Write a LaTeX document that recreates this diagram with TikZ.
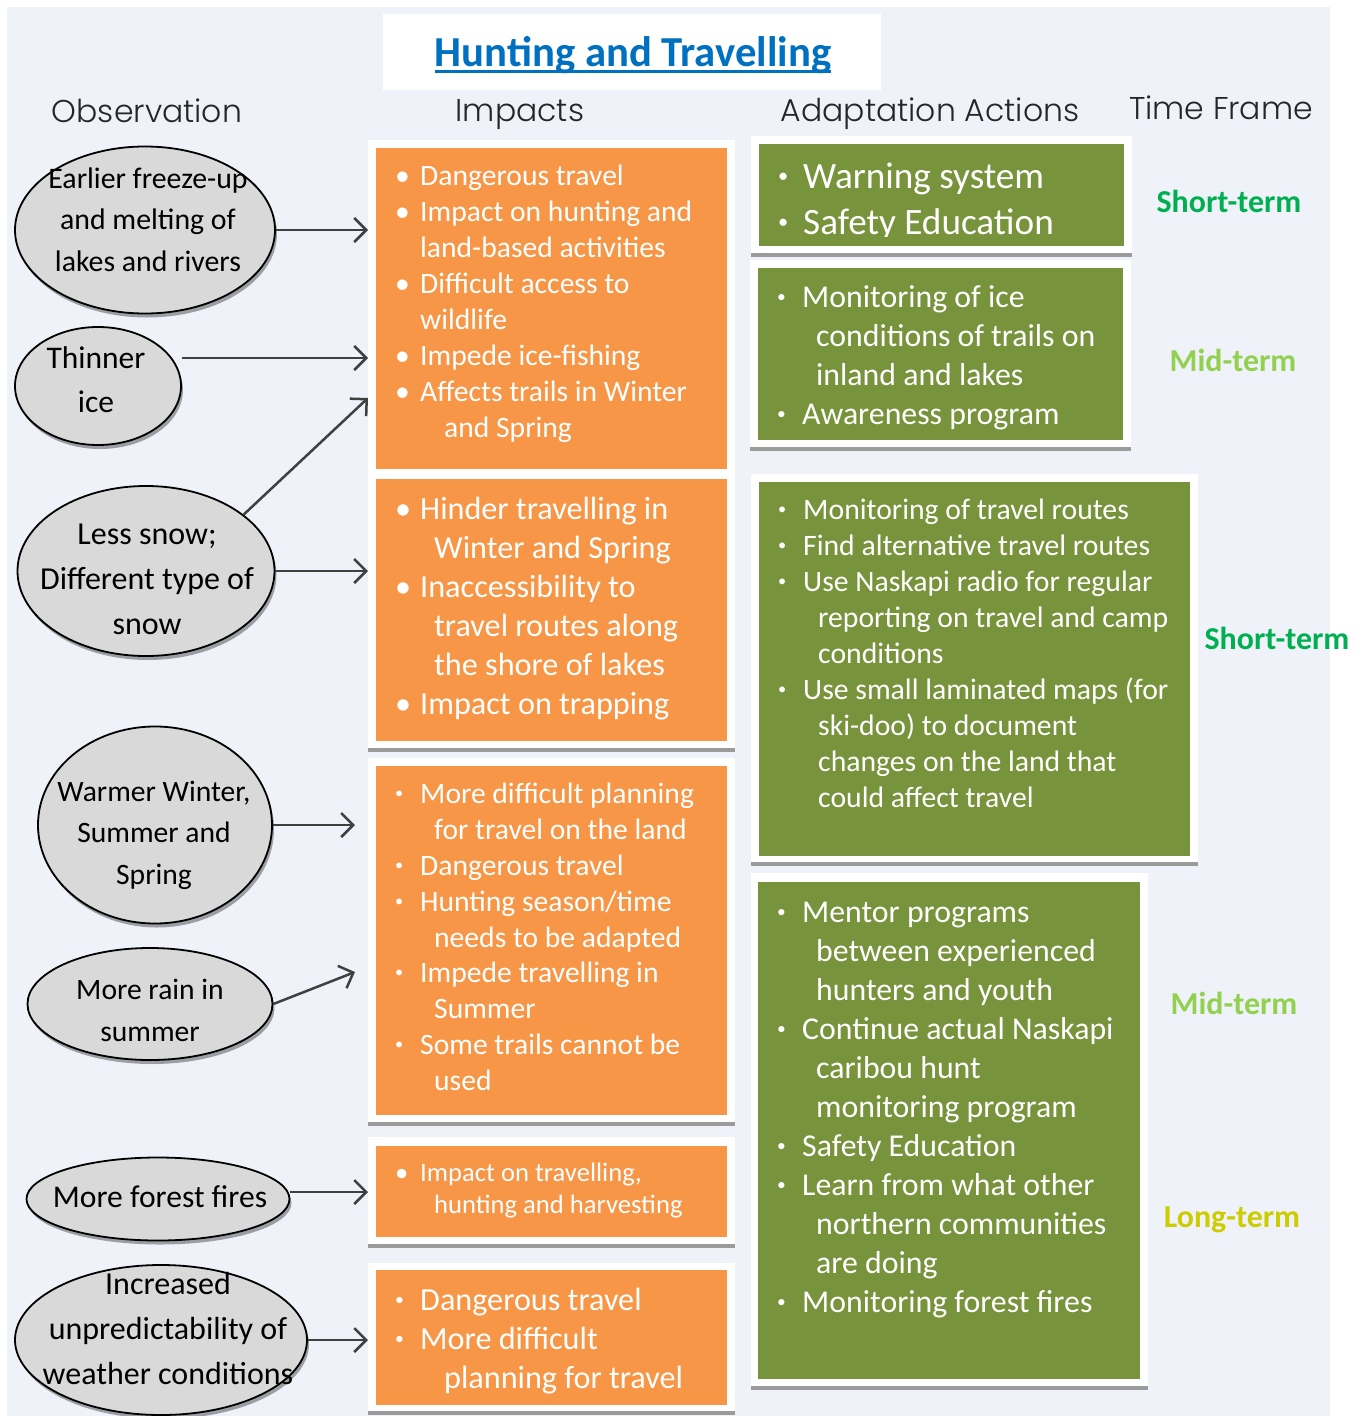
\documentclass[tikz,border=0pt]{standalone}
\usepackage{fontspec}
\setmainfont{Carlito}
\newfontfamily\headfont{Poppins Light}
\usetikzlibrary{arrows.meta,shapes.geometric,shadows}

\definecolor{bgblue}{HTML}{EFF3F9}
\definecolor{imporange}{HTML}{F79646}
\definecolor{actgreen}{HTML}{77933C}
\definecolor{panelgray}{HTML}{9B9B9B}
\definecolor{ellgray}{HTML}{D9D9D9}
\definecolor{titleblue}{HTML}{0070C0}
\definecolor{shortcol}{HTML}{00B050}
\definecolor{midcol}{HTML}{92D050}
\definecolor{longcol}{HTML}{CCCC00}
\definecolor{arrowgray}{HTML}{404040}

% bullet lines inside the boxes
\newcommand{\sdot}{\raisebox{0.17em}{\scalebox{0.55}{\textbullet}}}
\newcommand{\bitem}[1]{\makebox[25pt][l]{\textbullet}#1\strut}
\newcommand{\sitem}[1]{\makebox[25pt][l]{\sdot}#1\strut}
\newcommand{\citem}[2][14]{\hspace*{\dimexpr 25pt+#1pt\relax}#2\strut}

\tikzset{
  obs/.style={ellipse, draw=black, line width=1.8pt, fill=ellgray, inner sep=0pt,
    drop shadow={shadow xshift=2pt, shadow yshift=-4pt, fill=black, opacity=0.35}},
  obstxt/.style={align=center, inner sep=0pt},
  panel/.style={fill=white, inner sep=0pt, outer sep=0pt, anchor=north west},
  impbox/.style={fill=imporange, inner sep=0pt, outer sep=0pt, anchor=north west},
  actbox/.style={fill=actgreen, inner sep=0pt, outer sep=0pt, anchor=north west},
  boxtxt/.style={text=white, align=left, inner sep=0pt, anchor=north west},
  head/.style={font=\headfont\fontsize{31.5}{36}\selectfont, text=black!85,
    inner sep=0pt, anchor=base},
  term/.style={font=\bfseries\fontsize{31.9}{36}\selectfont},
  arr/.style={draw=arrowgray, line width=2.5pt, -{Straight Barb[length=12pt,width=24pt]}},
}

\begin{document}
\begin{tikzpicture}[x=1pt, y=-1pt]
  \useasboundingbox (0,0) rectangle (1364,1416);
  \fill[bgblue] (7,7) rectangle (1330,1416);

  % title
  \node[panel, minimum width=498pt, minimum height=76pt] (ttlbox) at (383,14) {};
  \node[font=\bfseries\fontsize{42.7}{50}\selectfont, text=titleblue, inner sep=0pt]
    (ttl) at (633,55) {Hunting and Travelling};
  \draw[titleblue, line width=3pt] ([yshift=2pt]ttl.south west) -- ([yshift=2pt]ttl.south east);

  % column heads
  \node[head] (hobs) at (147,122) {Observation};
  \node[head] (himp) at (520,121) {Impacts};
  \node[head] (hact) at (930,121) {Adaptation Actions};
  \node[head] (htf)  at (1221,119) {Time Frame};

  % white panels with grey bottom edge
  \node[panel, minimum width=367pt, minimum height=608pt] (panA) at (368,140) {};
  \node[panel, minimum width=367pt, minimum height=364pt] (panB) at (368,758) {};
  \node[panel, minimum width=367pt, minimum height=107pt] (panC) at (368,1137) {};
  \node[panel, minimum width=367pt, minimum height=148pt] (panD) at (368,1263) {};
  \node[panel, minimum width=381pt, minimum height=117pt] (panE) at (751,136) {};
  \node[panel, minimum width=381pt, minimum height=187pt] (panF) at (750,260) {};
  \node[panel, minimum width=447pt, minimum height=388pt] (panG) at (751,474) {};
  \node[panel, minimum width=397pt, minimum height=513pt] (panH) at (751,873) {};
  \foreach \p in {panA,panB,panC,panD,panE,panF,panG,panH}
    \fill[panelgray] ([yshift=-4pt]\p.south west) rectangle (\p.south east);

  % impacts
  \node[impbox, minimum width=351pt, minimum height=321pt] (imp1) at (376,148) {};
  \node[impbox, minimum width=351pt, minimum height=262pt] (imp2) at (376,479) {};
  \node[impbox, minimum width=351pt, minimum height=349pt] (imp3) at (376,766) {};
  \node[impbox, minimum width=351pt, minimum height=91pt]  (imp4) at (376,1146) {};
  \node[impbox, minimum width=351pt, minimum height=135pt] (imp5) at (376,1270) {};

  \node[boxtxt, font=\fontsize{29.6}{36}\selectfont] (imp1txt) at (395,160.5) {%
    \bitem{Dangerous travel}\\
    \bitem{Impact on hunting and}\\
    \citem[0]{land-based activities}\\
    \bitem{Difficult access to}\\
    \citem[0]{wildlife}\\
    \bitem{Impede ice-fishing}\\
    \bitem{Affects trails in Winter}\\
    \citem[24]{and Spring}};
  \node[boxtxt, font=\fontsize{32.2}{39}\selectfont] (imp2txt) at (395,492) {%
    \bitem{Hinder travelling in}\\
    \citem{Winter and Spring}\\
    \bitem{Inaccessibility to}\\
    \citem{travel routes along}\\
    \citem{the shore of lakes}\\
    \bitem{Impact on trapping}};
  \node[boxtxt, font=\fontsize{29.6}{35.8}\selectfont] (imp3txt) at (395,778.6) {%
    \sitem{More difficult planning}\\
    \citem{for travel on the land}\\
    \sitem{Dangerous travel}\\
    \sitem{Hunting season/time}\\
    \citem{needs to be adapted}\\
    \sitem{Impede travelling in}\\
    \citem{Summer}\\
    \sitem{Some trails cannot be}\\
    \citem{used}};
  \node[boxtxt, font=\fontsize{26.6}{32}\selectfont] (imp4txt) at (395,1158.4) {%
    \bitem{Impact on travelling,}\\
    \citem{hunting and harvesting}};
  \node[boxtxt, font=\fontsize{32.2}{39}\selectfont] (imp5txt) at (395,1283) {%
    \sitem{Dangerous travel}\\
    \sitem{More difficult}\\
    \citem[24]{planning for travel}};

  % adaptation actions
  \node[actbox, minimum width=365pt, minimum height=102pt] (act1) at (759,144) {};
  \node[actbox, minimum width=365pt, minimum height=172pt] (act2) at (758,268) {};
  \node[actbox, minimum width=431pt, minimum height=374pt] (act3) at (759,482) {};
  \node[actbox, minimum width=382pt, minimum height=497pt] (act4) at (758,882) {};

  \begin{scope}
    \clip (act1.north west) rectangle ([yshift=10pt]act1.south east);
    \node[boxtxt, font=\fontsize{37.2}{46}\selectfont] (act1txt) at (778,156) {%
      \sitem{Warning system}\\
      \sitem{Safety Education}};
  \end{scope}
  \node[boxtxt, font=\fontsize{31.8}{39}\selectfont] (act2txt) at (777,280) {%
    \sitem{Monitoring of ice}\\
    \citem{conditions of trails on}\\
    \citem{inland and lakes}\\
    \sitem{Awareness program}};
  \node[boxtxt, font=\fontsize{29.7}{35.9}\selectfont] (act3txt) at (778,494.6) {%
    \sitem{Monitoring of travel routes}\\
    \sitem{Find alternative travel routes}\\
    \sitem{Use Naskapi radio for regular}\\
    \citem[15]{reporting on travel and camp}\\
    \citem[15]{conditions}\\
    \sitem{Use small laminated maps (for}\\
    \citem[15]{ski-doo) to document}\\
    \citem[15]{changes on the land that}\\
    \citem[15]{could affect travel}};
  \node[boxtxt, font=\fontsize{31.8}{39}\selectfont] (act4txt) at (777,895) {%
    \sitem{Mentor programs}\\
    \citem{between experienced}\\
    \citem{hunters and youth}\\
    \sitem{Continue actual Naskapi}\\
    \citem{caribou hunt}\\
    \citem{monitoring program}\\
    \sitem{Safety Education}\\
    \sitem{Learn from what other}\\
    \citem{northern communities}\\
    \citem{are doing}\\
    \sitem{Monitoring forest fires}};

  % time frames
  \node[term, text=shortcol] (tf1) at (1229,201) {Short-term};
  \node[term, text=midcol]   (tf2) at (1233,360) {Mid-term};
  \node[term, text=shortcol] (tf3) at (1277,638) {Short-term};
  \node[term, text=midcol]   (tf4) at (1234,1003) {Mid-term};
  \node[term, text=longcol]  (tf5) at (1232,1220) {Long-term};

  % observations
  \node[obs, minimum width=260pt, minimum height=167pt] (e1) at (145,230) {};
  \node[obs, minimum width=166pt, minimum height=118pt] (e2) at (98,386) {};
  \node[obs, minimum width=257pt, minimum height=170pt] (e3) at (146,571) {};
  \node[obs, minimum width=234pt, minimum height=197pt] (e4) at (155,825) {};
  \node[obs, minimum width=245pt, minimum height=112pt] (e5) at (150,1004) {};
  \node[obs, minimum width=263pt, minimum height=83pt]  (e6) at (158,1199) {};
  \node[obs, minimum width=292pt, minimum height=150pt] (e7) at (161,1340) {};

  \node[obstxt, font=\fontsize{29.8}{41.5}\selectfont] at (148,221.5)
    {Earlier freeze-up\strut\\and melting of\\lakes and rivers\strut};
  \node[obstxt, font=\fontsize{31.5}{44}\selectfont] at (96,382) {Thinner\strut\\ice\strut};
  \node[obstxt, font=\fontsize{32}{45}\selectfont] at (147,580)
    {Less snow;\strut\\Different type of\\snow\strut};
  \node[obstxt, font=\fontsize{29.6}{41.5}\selectfont] at (154,834.5)
    {Warmer Winter,\strut\\Summer and\\Spring\strut};
  \node[obstxt, font=\fontsize{29.6}{42}\selectfont] at (150,1012) {More rain in\strut\\summer\strut};
  \node[obstxt, font=\fontsize{31.6}{42}\selectfont] at (160,1199) {More forest fires\strut};
  \node[obstxt, font=\fontsize{32}{45}\selectfont] at (168,1330)
    {Increased\strut\\unpredictability of\\weather conditions\strut};

  % links to the impacts
  \coordinate (s2) at ([yshift=28pt]e2.east);
  \coordinate (s6) at ([yshift=7pt]e6.east);
  \draw[arr] (e1.east) -- (e1.east -| panA.west);
  \draw[arr] (s2) -- (s2 -| panA.west);
  \draw[arr] (e3.30) -- (panA.west |- 0,398);
  \draw[arr] (e3.east) -- (e3.east -| panA.west);
  \draw[arr] (e4.east) -- ([xshift=-13pt]panB.west |- e4.east);
  \draw[arr] (e5.east) -- ([xshift=-13pt]panB.west |- 0,972);
  \draw[arr] (s6) -- (s6 -| panC.west);
  \draw[arr] (e7.east) -- (e7.east -| panD.west);
\end{tikzpicture}
\end{document}
